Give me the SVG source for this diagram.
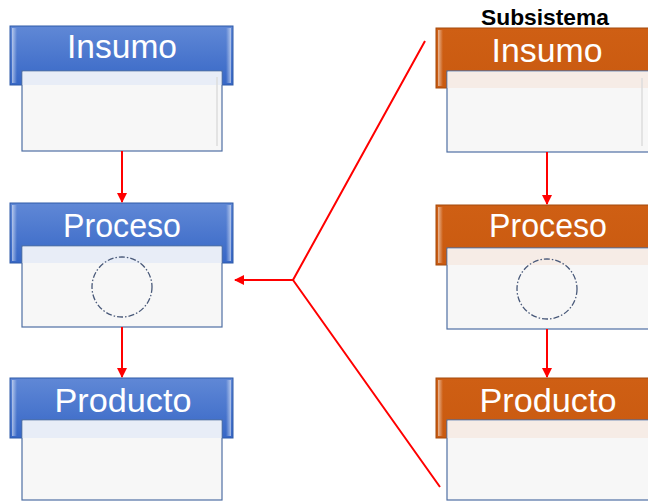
<svg xmlns="http://www.w3.org/2000/svg" width="648" height="501" viewBox="0 0 648 501">
  <defs>
    <linearGradient id="gBlue" x1="0" y1="0" x2="0" y2="1">
      <stop offset="0" stop-color="#6088d6"/>
      <stop offset="1" stop-color="#3767c6"/>
    </linearGradient>
    <linearGradient id="gOrange" x1="0" y1="0" x2="0" y2="1">
      <stop offset="0" stop-color="#cf5f14"/>
      <stop offset="1" stop-color="#c95a10"/>
    </linearGradient>
    <linearGradient id="gEdge" x1="0" y1="0" x2="1" y2="0">
      <stop offset="0" stop-color="#ffffff" stop-opacity="0.55"/>
      <stop offset="1" stop-color="#ffffff" stop-opacity="0"/>
    </linearGradient>
    <marker id="arrow" viewBox="0 0 10 10" refX="9" refY="5" markerWidth="5" markerHeight="5" orient="auto">
      <path d="M0,0 L10,5 L0,10 z" fill="#ff0000"/>
    </marker>
  </defs>
  <style>
    .hdrB { fill: url(#gBlue); stroke: #2f5aa8; stroke-width: 1; }
    .hdrO { fill: url(#gOrange); stroke: #a44a0c; stroke-width: 1; }
    .edge { fill: url(#gEdge); }
    .body { fill: #f7f7f7; stroke: #4f6fa3; stroke-width: 1.2; }
    .bandB { fill: #e8edf7; }
    .bandO { fill: #f6ece6; }
    .inner { stroke: #dcdcdc; stroke-width: 1.5; }
    .ttl { font-family: "Liberation Sans", Arial, sans-serif; font-size: 33px; fill: #ffffff; text-anchor: middle; }
    .circ { fill: none; stroke: #4a5a7a; stroke-width: 1.3; stroke-dasharray: 6 2 1.5 2; }
    .link { stroke: #ff0000; stroke-width: 2; fill: none; }
  </style>

  <text x="545" y="25" font-family="'Liberation Sans', Arial, sans-serif" font-weight="bold" font-size="22" text-anchor="middle" textLength="128" lengthAdjust="spacingAndGlyphs" fill="#000000">Subsistema</text>

  <!-- left column -->
  <g id="insumo-left">
    <rect class="hdrB" x="10" y="26" width="223" height="59"/>
    <rect class="edge" x="12" y="28" width="5" height="55"/>
    <rect class="edge" x="226" y="28" width="5" height="55" transform="rotate(180 228.5 55.5)"/>
    <rect class="body" x="22" y="71" width="200" height="80"/>
    <rect class="bandB" x="22.6" y="71.6" width="198.8" height="13.4"/>
    <line class="inner" x1="217" y1="77" x2="217" y2="146"/>
    <text class="ttl" x="122" y="58" textLength="110" lengthAdjust="spacingAndGlyphs">Insumo</text>
  </g>
  <g id="proceso-left">
    <rect class="hdrB" x="10" y="203" width="223" height="60"/>
    <rect class="edge" x="12" y="205" width="5" height="56"/>
    <rect class="edge" x="226" y="205" width="5" height="56" transform="rotate(180 228.5 233)"/>
    <rect class="body" x="22" y="246" width="200" height="81"/>
    <rect class="bandB" x="22.6" y="246.6" width="198.8" height="16.4"/>
    <circle class="circ" cx="122" cy="287" r="30"/>
    <text class="ttl" x="122" y="237" textLength="118" lengthAdjust="spacingAndGlyphs">Proceso</text>
  </g>
  <g id="producto-left">
    <rect class="hdrB" x="10" y="378" width="223" height="60"/>
    <rect class="edge" x="12" y="380" width="5" height="56"/>
    <rect class="edge" x="226" y="380" width="5" height="56" transform="rotate(180 228.5 408)"/>
    <rect class="body" x="22" y="420" width="200" height="80"/>
    <rect class="bandB" x="22.6" y="420.6" width="198.8" height="17.4"/>
    <text class="ttl" x="123" y="412" textLength="137" lengthAdjust="spacingAndGlyphs">Producto</text>
  </g>

  <!-- right column (subsystem) -->
  <g id="insumo-right">
    <rect class="hdrO" x="436" y="28" width="224" height="60"/>
    <rect class="edge" x="438" y="30" width="5" height="56"/>
    <rect class="body" x="447" y="71" width="210" height="81"/>
    <rect class="bandO" x="447.6" y="71.6" width="209" height="16.4"/>
    <line class="inner" x1="642" y1="78" x2="642" y2="146"/>
    <text class="ttl" x="547" y="62" textLength="111" lengthAdjust="spacingAndGlyphs">Insumo</text>
  </g>
  <g id="proceso-right">
    <rect class="hdrO" x="436" y="205" width="224" height="60"/>
    <rect class="edge" x="438" y="207" width="5" height="56"/>
    <rect class="body" x="447" y="248" width="210" height="81"/>
    <rect class="bandO" x="447.6" y="248.6" width="209" height="16.4"/>
    <circle class="circ" cx="547" cy="289" r="30"/>
    <text class="ttl" x="548" y="237" textLength="118" lengthAdjust="spacingAndGlyphs">Proceso</text>
  </g>
  <g id="producto-right">
    <rect class="hdrO" x="436" y="378" width="224" height="60"/>
    <rect class="edge" x="438" y="380" width="5" height="56"/>
    <rect class="body" x="447" y="420" width="210" height="80"/>
    <rect class="bandO" x="447.6" y="420.6" width="209" height="17.4"/>
    <text class="ttl" x="548" y="412" textLength="137" lengthAdjust="spacingAndGlyphs">Producto</text>
  </g>

  <g id="connectors">
    <line class="link" x1="122" y1="151" x2="122" y2="202" marker-end="url(#arrow)"/>
    <line class="link" x1="122" y1="327" x2="122" y2="377" marker-end="url(#arrow)"/>
    <line class="link" x1="547" y1="152" x2="547" y2="204" marker-end="url(#arrow)"/>
    <line class="link" x1="547" y1="329" x2="547" y2="377" marker-end="url(#arrow)"/>
    <polyline class="link" points="425,41 293,280 440,487"/>
    <line class="link" x1="293" y1="280" x2="235" y2="280" marker-end="url(#arrow)"/>
  </g>
</svg>
